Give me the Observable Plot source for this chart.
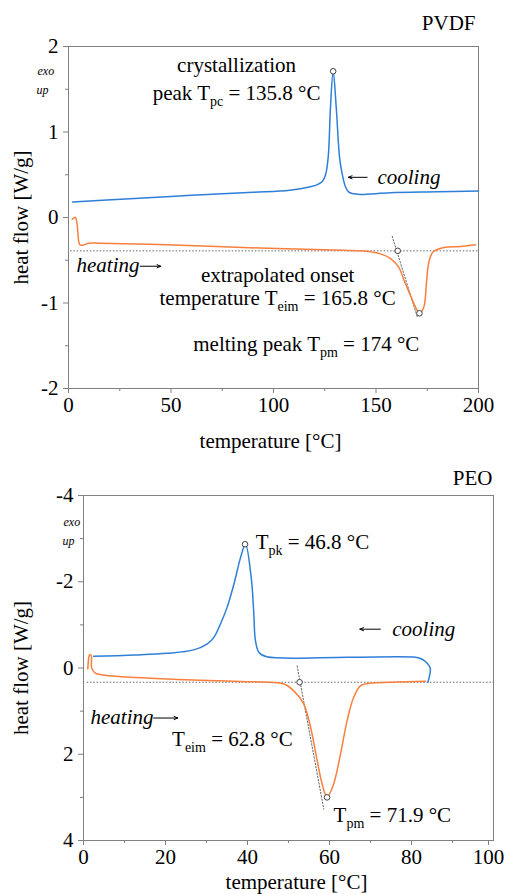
<!DOCTYPE html>
<html>
<head>
<meta charset="utf-8">
<script src="https://cdn.jsdelivr.net/npm/d3@7"></script>
<script src="https://cdn.jsdelivr.net/npm/@observablehq/plot@0.6"></script>
<style>
  html, body { margin: 0; padding: 0; background: #fff; }
  #chart svg { display: block; font-family: "Liberation Serif", "Times New Roman", serif !important; font-size: 21px; }
  #chart svg text { font-family: "Liberation Serif", "Times New Roman", serif !important; }
</style>
</head>
<body>
<div id="chart"></div>
<script>
// ---------- PVDF panel data ----------
const pvdfXTicks = [0, 50, 100, 150, 200];
const pvdfXMinor = [25, 75, 125, 175];
const pvdfYTicks = [-2, -1, 0, 1, 2];
const pvdfYMinor = [-1.5, -0.5, 0.5, 1.5];
// cooling curve [temperature °C, heat flow W/g]
const pvdfCooling = [
  [2, 0.18], [30, 0.22], [60, 0.26], [90, 0.295], [108, 0.32], [118, 0.36],
  [121.5, 0.385], [123.8, 0.42], [125.4, 0.50], [126.7, 0.71], [127.8, 1.29],
  [129.1, 1.71], [130.6, 1.29], [132.2, 0.71], [133.5, 0.51], [135.1, 0.36],
  [136.6, 0.30], [138.4, 0.28], [142.4, 0.27], [157, 0.29], [180, 0.30], [200, 0.31]
];
// heating curve
const pvdfHeating = [
  [1.8, -0.02], [2.6, -0.005], [3.4, 0.0], [4.2, -0.08], [5.0, -0.28], [5.6, -0.32],
  [7.5, -0.32], [9.9, -0.30], [15, -0.30], [48, -0.32], [97, -0.36], [129, -0.38],
  [142.4, -0.39], [148, -0.405], [152.2, -0.425], [157.1, -0.48], [161.1, -0.58],
  [163.6, -0.73], [166.8, -0.91], [169.3, -1.05], [171.2, -1.12], [173.3, -1.05],
  [174.6, -0.77], [175.8, -0.52], [177.9, -0.40], [183.1, -0.35], [191.2, -0.34], [198.5, -0.32]
];
const pvdfBaseline = -0.39;
const pvdfBaselineRange = [1, 200];
const pvdfTangent = [[157.9, -0.22], [170.1, -1.16]];
const pvdfMarkers = [[129.1, 1.71], [160.6, -0.39], [171.2, -1.12]];
const pvdfLabels = [
  {x: 82, y: 1.78, text: "crystallization", anchor: "middle", italic: false},
  {x: 82, y: 1.45, text: "peak T_{pc} = 135.8 °C", anchor: "middle", italic: false},
  {x: 150.7, y: 0.47, text: "cooling", anchor: "start", italic: true},
  {x: 3.9, y: -0.56, text: "heating", anchor: "start", italic: true},
  {x: 102, y: -0.68, text: "extrapolated onset", anchor: "middle", italic: false},
  {x: 102, y: -0.95, text: "temperature T_{eim} = 165.8 °C", anchor: "middle", italic: false},
  {x: 116, y: -1.48, text: "melting peak T_{pm} = 174 °C", anchor: "middle", italic: false}
];
const pvdfArrows = [
  {x1: 145.7, y1: 0.47, x2: 136.5, y2: 0.47},
  {x1: 35.0, y1: -0.57, x2: 45.0, y2: -0.57}
];

// ---------- PEO panel data ----------
const peoXTicks = [0, 20, 40, 60, 80, 100];
const peoXMinor = [10, 30, 50, 70, 90];
const peoYTicks = [-4, -2, 0, 2, 4];
const peoYMinor = [-3, -1, 1, 3];
const peoCooling = [
  [84.0, 0.33], [84.6, 0.02], [84.1, -0.08], [83.4, -0.15], [82.2, -0.22], [81, -0.25],
  [64.6, -0.25], [44.7, -0.26], [42.8, -0.36], [41.95, -0.63], [41.5, -1.33],
  [40.9, -2.10], [39.5, -2.87], [38.3, -2.56], [36.7, -1.95], [35.0, -1.40],
  [33.4, -1.02], [31.8, -0.71], [30.2, -0.56], [26.9, -0.42], [20.4, -0.34],
  [12.3, -0.30], [2.5, -0.27]
];
const peoHeating = [
  [1.05, 0.02], [1.3, -0.25], [1.5, -0.31], [1.9, -0.28], [2.0, 0.0], [2.9, 0.12],
  [4.6, 0.16], [12.7, 0.22], [25, 0.27], [36.7, 0.31], [45, 0.33], [48.9, 0.37],
  [51.3, 0.53], [53.7, 0.83], [55.4, 1.38], [57.0, 2.15], [58.2, 2.69], [59.4, 3.0],
  [61.0, 2.69], [62.7, 1.99], [64.3, 1.22], [65.9, 0.68], [67.6, 0.41], [70, 0.35],
  [74.9, 0.33], [83.4, 0.31]
];
const peoBaseline = 0.33;
const peoBaselineRange = [0.9, 100];
const peoTangent = [[52.1, -0.05], [58.6, 3.27]];
const peoMarkers = [[39.4, -2.87], [52.7, 0.33], [59.4, 3.0]];
const peoLabels = [
  {x: 42, y: -2.91, text: "T_{pk} = 46.8 °C", anchor: "start", italic: false},
  {x: 75.3, y: -0.90, text: "cooling", anchor: "start", italic: true},
  {x: 1.7, y: 1.14, text: "heating", anchor: "start", italic: true},
  {x: 21.6, y: 1.65, text: "T_{eim} = 62.8 °C", anchor: "start", italic: false},
  {x: 61, y: 3.42, text: "T_{pm} = 71.9 °C", anchor: "start", italic: false}
];
const peoArrows = [
  {x1: 72.4, y1: -0.90, x2: 67.4, y2: -0.90},
  {x1: 17.1, y1: 1.16, x2: 23.0, y2: 1.16}
];

const xTitle = "temperature [°C]";
const yTitle = "heat flow [W/g]";
const blue = "#2f7fd8";
const orange = "#f8803c";
const frameGray = "#808080";
const FONT = "Liberation Serif, Times New Roman, serif";

function panel(o) {
  const toObj = (arr) => arr.map(([x, y]) => ({x, y}));
  const fmt = d => String(d);
  return Plot.plot({
    width: 506,
    height: o.height,
    marginTop: o.mt, marginBottom: o.mb, marginLeft: o.ml, marginRight: o.mr,
    style: {fontFamily: FONT, fontSize: "21px", background: "white", overflow: "visible", color: "black"},
    x: {domain: o.xDomain},
    y: {domain: o.yDomain, reverse: o.reverse},
    marks: [
      Plot.frame({stroke: frameGray}),
      Plot.axisX({ticks: o.xTicks.slice(0, -1), tickSize: 5, tickPadding: 4, stroke: frameGray, fill: "black", label: null, tickFormat: fmt}),
      Plot.axisX({ticks: o.xTicks.slice(-1), tickSize: 5, tickPadding: 4, stroke: frameGray, fill: "black", label: null, tickFormat: fmt, dx: o.lastDx}),
      Plot.axisX({ticks: o.xMinor, tickSize: 3, text: null, stroke: frameGray, label: null}),
      Plot.axisY({ticks: o.yTicks, tickSize: 5, tickPadding: 5, stroke: frameGray, fill: "black", label: null, tickFormat: fmt}),
      Plot.axisY({ticks: o.yMinor, tickSize: 3, text: null, stroke: frameGray, label: null}),
      Plot.ruleY([o.baseline], {x1: o.baselineRange[0], x2: o.baselineRange[1], stroke: "#666", strokeWidth: 1, strokeDasharray: "1.5,1.8"}),
      Plot.line(toObj(o.tangent), {x: "x", y: "y", stroke: "#666", strokeWidth: 1, strokeDasharray: "1.5,1.8"}),
      Plot.line(toObj(o.heating), {x: "x", y: "y", stroke: orange, strokeWidth: 1.5, curve: "catmull-rom"}),
      Plot.line(toObj(o.cooling), {x: "x", y: "y", stroke: blue, strokeWidth: 1.5, curve: "catmull-rom"}),
      Plot.dot(toObj(o.markers), {x: "x", y: "y", r: 2.8, stroke: "#444", fill: "white", strokeWidth: 1}),
      Plot.arrow(o.arrows, {x1: "x1", y1: "y1", x2: "x2", y2: "y2", stroke: "black", strokeWidth: 1, headLength: 6, headAngle: 45}),
      Plot.text(o.labels.filter(d => d.anchor === "middle" && !d.italic), {x: "x", y: "y", text: "text", textAnchor: "middle", lineAnchor: "middle"}),
      Plot.text(o.labels.filter(d => d.anchor === "start" && !d.italic), {x: "x", y: "y", text: "text", textAnchor: "start", lineAnchor: "middle"}),
      Plot.text(o.labels.filter(d => d.italic), {x: "x", y: "y", text: "text", textAnchor: "start", lineAnchor: "middle", fontStyle: "italic"}),
      Plot.text([o.name], {frameAnchor: "top-right", text: d => d, textAnchor: "end", lineAnchor: "middle", dx: o.nameDx, dy: o.nameDy}),
      Plot.text(["exo"], {frameAnchor: "top-left", text: d => d, textAnchor: "start", lineAnchor: "middle", fontStyle: "italic", fontSize: 12, dx: o.exoDx, dy: o.exoDy}),
      Plot.text(["up"], {frameAnchor: "top-left", text: d => d, textAnchor: "start", lineAnchor: "middle", fontStyle: "italic", fontSize: 12, dx: o.exoDx - 1, dy: o.exoDy + 19}),
      Plot.text([xTitle], {frameAnchor: "bottom", text: d => d, textAnchor: "middle", lineAnchor: "middle", dx: o.xtDx, dy: o.xtDy}),
      Plot.text([yTitle], {frameAnchor: "left", text: d => d, textAnchor: "middle", lineAnchor: "middle", rotate: -90, dx: o.ytDx})
    ]
  });
}

function subscripts(svg) {
  const NS = "http://www.w3.org/2000/svg";
  d3.select(svg).selectAll("text, tspan").each(function () {
    if (this.children.length) return;
    const s = this.textContent;
    if (!s.includes("_{")) return;
    const parts = s.split(/(_\{[^}]*\})/);
    this.textContent = "";
    let shifted = false;
    for (const p of parts) {
      if (!p) continue;
      const t = document.createElementNS(NS, "tspan");
      if (p.startsWith("_{")) {
        t.textContent = p.slice(2, -1);
        t.setAttribute("font-size", "14");
        t.setAttribute("dy", "6");
        shifted = true;
      } else {
        t.textContent = p;
        if (shifted) { t.setAttribute("dy", "-6"); shifted = false; }
      }
      this.appendChild(t);
    }
  });
  return svg;
}

const pvdfChart = panel({
  height: 450, mt: 46, mb: 62, ml: 68, mr: 28,
  xDomain: [0, 200], yDomain: [-2, 2], reverse: false,
  xTicks: pvdfXTicks, xMinor: pvdfXMinor, yTicks: pvdfYTicks, yMinor: pvdfYMinor,
  cooling: pvdfCooling, heating: pvdfHeating,
  baseline: pvdfBaseline, baselineRange: pvdfBaselineRange,
  tangent: pvdfTangent, markers: pvdfMarkers, labels: pvdfLabels, arrows: pvdfArrows,
  name: "PVDF", nameDx: -3, nameDy: -23,
  exoDx: -31, exoDy: 25,
  xtDx: -3, xtDy: 53, ytDx: -47, lastDx: 0
});
const peoChart = panel({
  height: 444, mt: 45, mb: 54, ml: 83, mr: 13,
  xDomain: [0, 100], yDomain: [-4, 4], reverse: true,
  xTicks: peoXTicks, xMinor: peoXMinor, yTicks: peoYTicks, yMinor: peoYMinor,
  cooling: peoCooling, heating: peoHeating,
  baseline: peoBaseline, baselineRange: peoBaselineRange,
  tangent: peoTangent, markers: peoMarkers, labels: peoLabels, arrows: peoArrows,
  name: "PEO", nameDx: -1, nameDy: -17,
  exoDx: -20, exoDy: 27,
  xtDx: 8, xtDy: 42, ytDx: -62, lastDx: -5
});
const chart = document.getElementById("chart");
chart.appendChild(subscripts(pvdfChart));
chart.appendChild(subscripts(peoChart));
</script>
</body>
</html>
